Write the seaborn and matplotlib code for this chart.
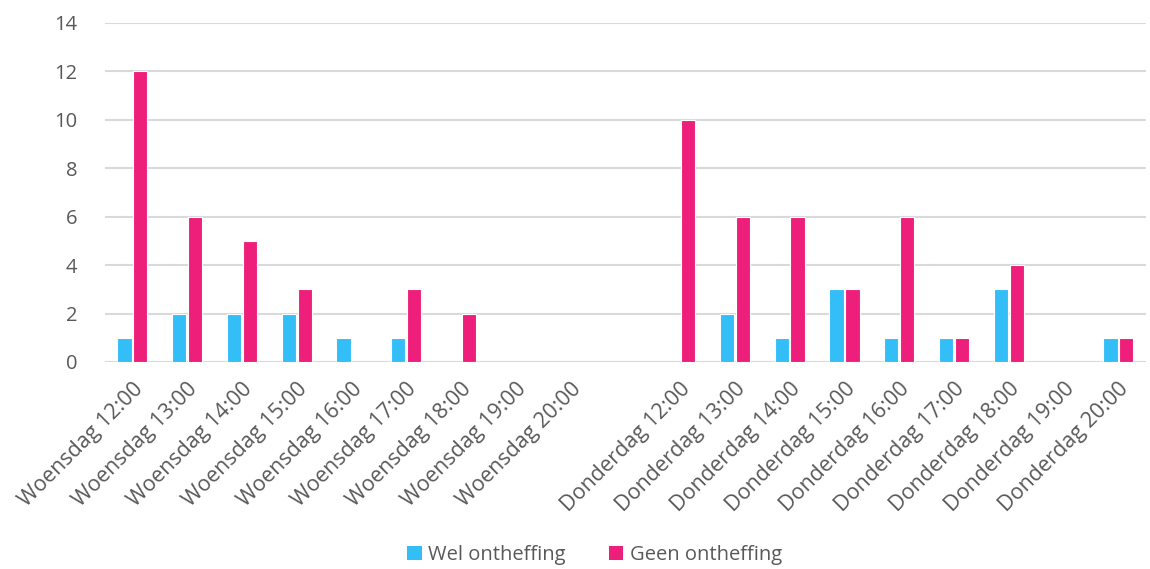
import matplotlib
matplotlib.use("Agg")
import matplotlib.pyplot as plt
from matplotlib.patches import Patch
import seaborn as sns
import pandas as pd

woensdag = ["Woensdag 12:00", "Woensdag 13:00", "Woensdag 14:00", "Woensdag 15:00", "Woensdag 16:00",
            "Woensdag 17:00", "Woensdag 18:00", "Woensdag 19:00", "Woensdag 20:00"]
donderdag = ["Donderdag 12:00", "Donderdag 13:00", "Donderdag 14:00", "Donderdag 15:00", "Donderdag 16:00",
             "Donderdag 17:00", "Donderdag 18:00", "Donderdag 19:00", "Donderdag 20:00"]
categories = woensdag + [" "] + donderdag

wel_ontheffing = [1, 2, 2, 2, 1, 1, 0, 0, 0, 0, 0, 2, 1, 3, 1, 1, 3, 0, 1]
geen_ontheffing = [12, 6, 5, 3, 0, 3, 2, 0, 0, 0, 10, 6, 6, 3, 6, 1, 4, 0, 1]

series_names = ["Wel ontheffing", "Geen ontheffing"]
colors = ["#33BEF8", "#EE1F7A"]

df = pd.DataFrame({
    "cat": categories * 2,
    "value": wel_ontheffing + geen_ontheffing,
    "serie": [series_names[0]] * len(categories) + [series_names[1]] * len(categories),
})

sns.set_theme(style="white")
plt.rcParams["font.family"] = ["Open Sans", "DejaVu Sans"]
text_color = "#595959"

fig = plt.figure(figsize=(11.5, 5.69), dpi=100)
ax = fig.add_axes([0.0913, 0.3638, 0.905, 0.5958])

sns.barplot(data=df, x="cat", y="value", hue="serie", order=categories, hue_order=series_names,
            palette=colors, width=0.58, gap=0.1, edgecolor="white", linewidth=0.8,
            ax=ax, legend=False, saturation=1)

for p in ax.patches:
    if p.get_height() == 0:
        p.set_visible(False)

ax.set_ylim(0, 14)
ax.set_xlim(-0.5, 18.5)
ax.set_yticks(range(0, 15, 2))
ax.yaxis.grid(True, color="#D9D9D9", linewidth=1.5)
ax.set_axisbelow(True)
for s in ax.spines.values():
    s.set_visible(False)
ax.set_xlabel("")
ax.set_ylabel("")
ax.tick_params(axis="both", length=0, colors=text_color)
ax.tick_params(axis="y", pad=20, labelsize=14.5)
ax.tick_params(axis="x", pad=12, labelsize=15.5)
ax.set_xticks(range(len(categories)))
ax.set_xticklabels(categories, rotation=45, ha="right", rotation_mode="anchor")

handles = [Patch(facecolor=c, edgecolor="none") for c in colors]
fig.legend(handles, series_names, loc="center", bbox_to_anchor=(0.517, 0.025), ncol=2, frameon=False,
           fontsize=14.5, labelcolor=text_color, handlelength=0.7, handleheight=0.7,
           handletextpad=0.3, columnspacing=2.2)

fig.savefig("out.png", dpi=100)
